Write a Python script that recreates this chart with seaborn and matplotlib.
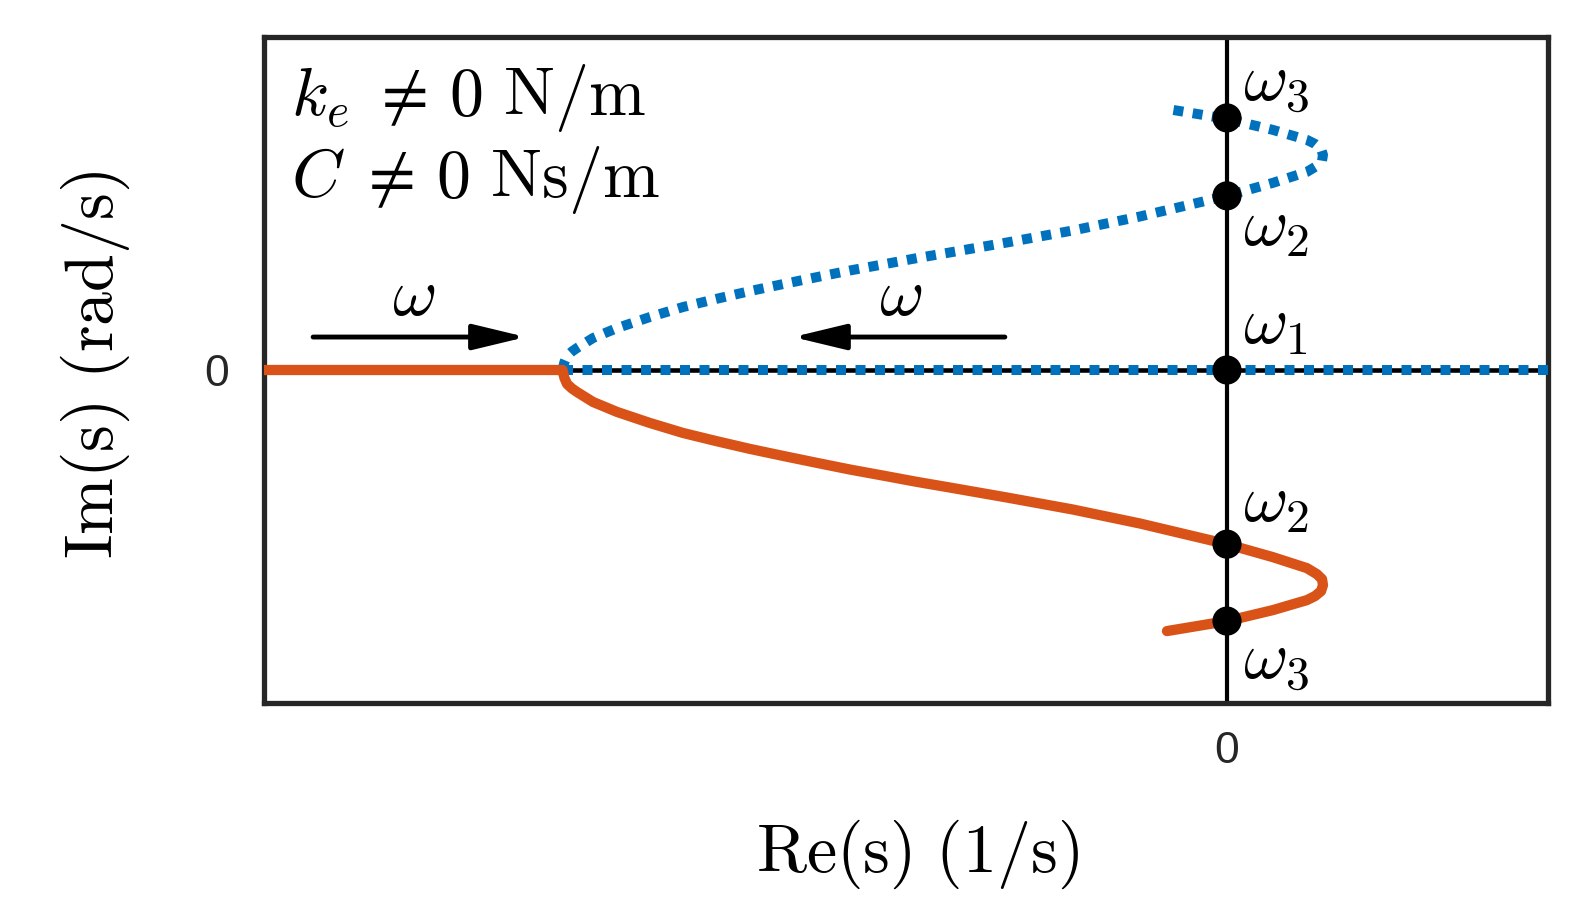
import numpy as np
import matplotlib
matplotlib.use("Agg")
import matplotlib.pyplot as plt
from matplotlib.patches import ArrowStyle
import seaborn as sns

# Root locus values (Re in 1/s, Im in rad/s, arbitrary scale)
# lower (stable) branch, orange, starting on the real axis at the left edge
lower_re = [-3.0, -2.07, -2.068, -2.064, -2.056, -2.040, -2.025, -1.975, -1.900, -1.798,
            -1.695, -1.589, -1.486, -1.383, -1.277, -1.174, -1.072, -0.966, -0.869,
            -0.685, -0.480, -0.271, 0.0, 0.143, 0.249, 0.280, 0.296, 0.299, 0.293,
            0.274, 0.249, 0.143, 0.0, -0.187]
lower_im = [0.0, 0.0, -0.009, -0.024, -0.042, -0.056, -0.066, -0.096, -0.126, -0.159,
            -0.189, -0.214, -0.237, -0.258, -0.279, -0.299, -0.317, -0.336, -0.352,
            -0.383, -0.419, -0.461, -0.523, -0.562, -0.595, -0.613, -0.628, -0.646, -0.664,
            -0.679, -0.691, -0.721, -0.754, -0.784]

# upper branch, blue dotted
upper_re = [-2.07, -2.068, -2.064, -2.056, -2.040, -2.025, -1.975, -1.900, -1.798,
            -1.695, -1.589, -1.486, -1.383, -1.277, -1.174, -1.072, -0.966, -0.869,
            -0.685, -0.480, -0.271, 0.0, 0.143, 0.249, 0.280, 0.296, 0.299, 0.293,
            0.274, 0.249, 0.143, 0.0, -0.187]
upper_im = [0.0, 0.009, 0.024, 0.042, 0.056, 0.066, 0.096, 0.126, 0.159,
            0.189, 0.214, 0.237, 0.258, 0.279, 0.299, 0.317, 0.336, 0.352,
            0.383, 0.419, 0.461, 0.523, 0.562, 0.595, 0.613, 0.628, 0.646, 0.664,
            0.679, 0.691, 0.721, 0.754, 0.784]

# real-axis part of the blue branch
real_re = [-2.07, 1.0]
real_im = [0.0, 0.0]

# crossing points on the imaginary axis
omega_re = [0.0, 0.0, 0.0, 0.0, 0.0]
omega_im = [0.757, 0.523, 0.0, -0.523, -0.754]
omega_labels = [r"$\omega_3$", r"$\omega_2$", r"$\omega_1$", r"$\omega_2$", r"$\omega_3$"]
omega_label_im = [0.81, 0.375, 0.081, -0.456, -0.925]

# direction arrows (tail, head) and their labels
arrow_tail_re = [-2.847, -0.692]
arrow_head_re = [-2.184, -1.352]
arrow_im = [0.099, 0.099]
arrow_label_re = [-2.533, -1.016]
arrow_label_im = [0.165, 0.165]

orange = "#D95319"
blue = "#0072BD"
dark = "#262626"

sns.set_theme(style="white")
plt.rcParams["mathtext.fontset"] = "cm"
plt.rcParams["font.family"] = ["Liberation Sans", "DejaVu Sans"]

fig = plt.figure(figsize=(15.82, 9.22), dpi=100)
ax = fig.add_axes([264 / 1582, 1 - 703 / 922, 1284 / 1582, 666 / 922])

ax.axvline(0, color="black", lw=3, zorder=2)
sns.lineplot(x=real_re, y=real_im, sort=False, estimator=None, color="black",
             linewidth=3.3, ax=ax, zorder=2)
sns.lineplot(x=real_re, y=real_im, sort=False, estimator=None, color=blue,
             linewidth=7.2, linestyle=(0, (1, 0.95)), ax=ax, zorder=3)
sns.lineplot(x=upper_re, y=upper_im, sort=False, estimator=None, color=blue,
             linewidth=7.2, linestyle=(0, (1, 0.95)), ax=ax, zorder=3)
sns.lineplot(x=lower_re, y=lower_im, sort=False, estimator=None, color=orange,
             linewidth=7.4, solid_joinstyle="round", ax=ax, zorder=3)
sns.scatterplot(x=omega_re, y=omega_im, color="black", s=21 ** 2, edgecolor="none",
                ax=ax, zorder=5)

for lab, yy in zip(omega_labels, omega_label_im):
    ax.text(0.05, yy, lab, fontsize=49, ha="left", va="baseline", color="black")

head = ArrowStyle("-|>", head_length=2.7, head_width=0.65)
for t, h, yy in zip(arrow_tail_re, arrow_head_re, arrow_im):
    ax.annotate("", xy=(h, yy), xytext=(t, yy),
                arrowprops=dict(arrowstyle=head, color="black", lw=3.5,
                                shrinkA=0, shrinkB=0))
for xx, yy in zip(arrow_label_re, arrow_label_im):
    ax.text(xx, yy, r"$\omega$", fontsize=49, ha="center", va="baseline", color="black")

ax.text(0.021, 0.883, r"$k_e\;\neq\,0\ \mathrm{N/m}$", transform=ax.transAxes,
        fontsize=49, ha="left", va="baseline", color="black")
ax.text(0.021, 0.760, r"$C\;\neq\,0\ \mathrm{Ns/m}$", transform=ax.transAxes,
        fontsize=49, ha="left", va="baseline", color="black")

ax.set_xlim(-3, 1)
ax.set_ylim(-1, 1)
ax.set_xticks([0])
ax.set_yticks([0])
ax.set_xticklabels(["0"])
ax.set_yticklabels(["0"])
ax.tick_params(axis="both", length=0, labelsize=32, labelcolor=dark)
ax.tick_params(axis="x", pad=20)
ax.tick_params(axis="y", pad=25)

ax.set_xlabel(r"$\mathrm{Re(s)\ (1/s)}$", fontsize=49, color="black")
ax.set_ylabel(r"$\mathrm{Im(s)\ (rad/s)}$", fontsize=49, color="black")
ax.xaxis.set_label_coords(0.5086, -0.173)
ax.yaxis.set_label_coords(-0.103, 0.5075)

for sp in ax.spines.values():
    sp.set_color(dark)
    sp.set_linewidth(3.8)
    sp.set_visible(True)

fig.savefig("out.png", dpi=100)
